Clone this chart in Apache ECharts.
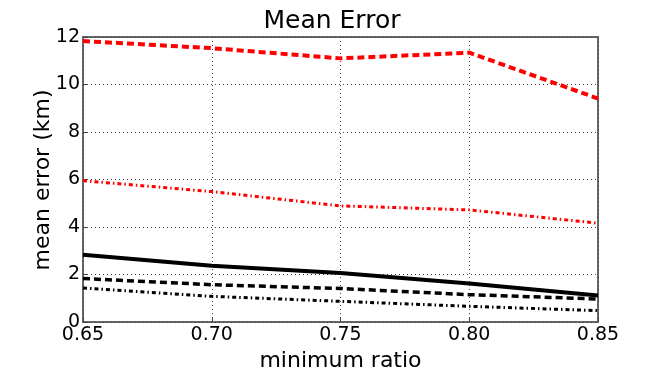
<!DOCTYPE html>
<html>
<head>
<meta charset="utf-8">
<script src="https://cdn.jsdelivr.net/npm/echarts@6/dist/echarts.min.js"></script>
<style>
  html, body { margin: 0; padding: 0; background: #fff; }
  #chart { width: 664px; height: 369px; }
</style>
</head>
<body>
<div id="chart"></div>
<script>
// x positions (minimum ratio)
var ratios = ["0.65", "0.70", "0.75", "0.80", "0.85"];
var yTicks = [0, 2, 4, 6, 8, 10, 12];

// mean error (km) per line
var redDashed = [11.83, 11.53, 11.1, 11.34, 9.41];
var redDashDot = [5.95, 5.49, 4.89, 4.72, 4.16];
var blackSolid = [2.83, 2.37, 2.06, 1.62, 1.12];
var blackDashed = [1.83, 1.57, 1.41, 1.15, 0.97];
var blackDashDot = [1.43, 1.08, 0.87, 0.66, 0.48];

var font = "DejaVu Sans";

function line(data, color, width, type) {
  return {
    type: "line",
    data: data,
    symbol: "none",
    smooth: false,
    lineStyle: { color: color, width: width, type: type, cap: "butt" },
    z: 5
  };
}

var chart = echarts.init(document.getElementById("chart"));
chart.setOption({
  animation: false,
  backgroundColor: "#fff",
  title: {
    text: "Mean Error",
    left: "center",
    top: 4,
    textStyle: { fontFamily: font, fontSize: 25, fontWeight: "normal", color: "#000" }
  },
  // y axis title placed by hand, the axis name gets pushed out by its labels
  graphic: [{
    type: "text",
    x: 43,
    y: 180,
    rotation: Math.PI / 2,
    style: {
      text: "mean error (km)",
      fontFamily: font,
      fontSize: 22,
      fill: "#000",
      align: "center",
      verticalAlign: "middle"
    }
  }],
  grid: {
    left: 83,
    right: 66,
    top: 37,
    bottom: 47,
    outerBoundsMode: "none",
    containLabel: false,
    show: true,
    borderColor: "#666",
    borderWidth: 2
  },
  xAxis: {
    type: "category",
    data: ratios,
    boundaryGap: false,
    name: "minimum ratio",
    nameLocation: "middle",
    nameGap: 26,
    nameTextStyle: { fontFamily: font, fontSize: 22, color: "#000" },
    axisLine: { show: false },
    axisTick: { show: true, inside: true, length: 5, lineStyle: { color: "#444" } },
    axisLabel: { fontFamily: font, fontSize: 19, color: "#000", margin: 4 },
    splitLine: { show: true, lineStyle: { color: "#444", width: 1, type: [1, 3] } }
  },
  yAxis: {
    type: "value",
    min: 0,
    max: 12,
    interval: 2,
    axisLine: { show: false },
    axisTick: { show: true, inside: true, length: 5, lineStyle: { color: "#444" } },
    axisLabel: {
      fontFamily: font, fontSize: 19, color: "#000", margin: 3,
      formatter: function (v) { return yTicks.indexOf(v) >= 0 ? String(v) : ""; }
    },
    splitLine: { show: true, lineStyle: { color: "#444", width: 1, type: [1, 3] } }
  },
  series: [
    line(redDashed, "#ff0000", 4, [7, 4]),
    line(redDashDot, "#ff0000", 3, [4, 3, 1.5, 3]),
    line(blackSolid, "#000", 4, "solid"),
    line(blackDashed, "#000", 3.5, [7, 4]),
    line(blackDashDot, "#000", 3, [4, 3, 1.5, 3])
  ]
});
</script>
</body>
</html>
